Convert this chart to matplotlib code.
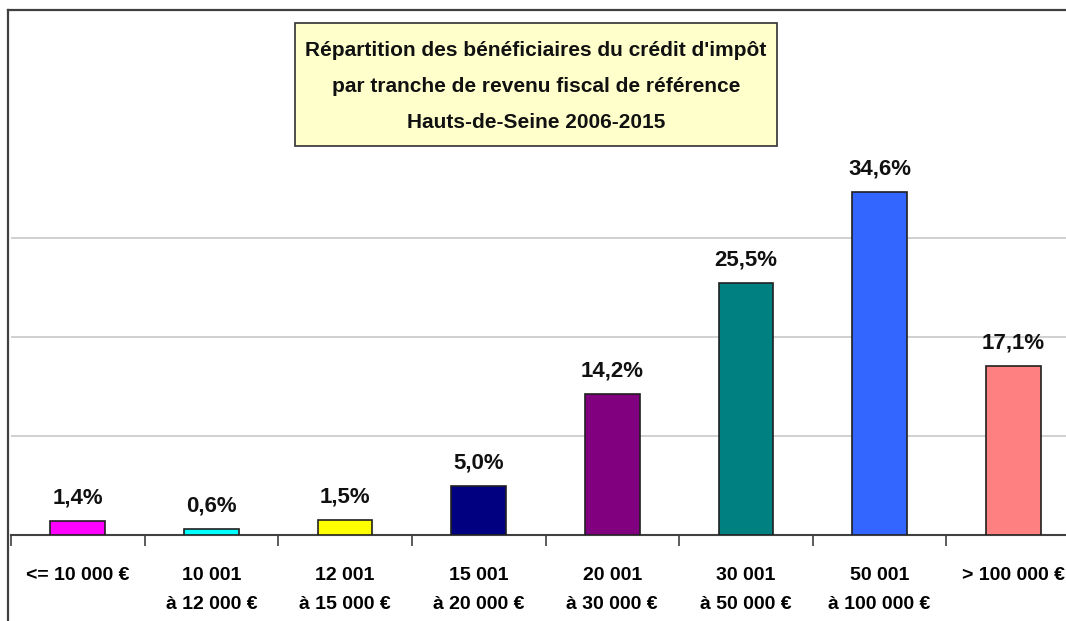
import numpy as np
import matplotlib
matplotlib.use('Agg')
from matplotlib import pyplot as plt
from matplotlib.patches import Rectangle
from matplotlib.lines import Line2D

# Données
tranches = ['<= 10 000 €', '10 001\nà 12 000 €', '12 001\nà 15 000 €', '15 001\nà 20 000 €',
            '20 001\nà 30 000 €', '30 001\nà 50 000 €', '50 001\nà 100 000 €', '> 100 000 €']
parts = [1.4, 0.6, 1.5, 5.0, 14.2, 25.5, 34.6, 17.1]
couleurs = ['#FF00FF', '#00FFFF', '#FFFF00', '#000080', '#800080', '#008080', '#3366FF', '#FF8080']
titre = ["Répartition des bénéficiaires du crédit d'impôt",
         "par tranche de revenu fiscal de référence",
         "Hauts-de-Seine 2006-2015"]

plt.rcParams['font.family'] = ['Liberation Sans', 'DejaVu Sans']
plt.rcParams['font.weight'] = 'bold'

W, H = 1066, 621
fig = plt.figure(figsize=(W / 100, H / 100), dpi=100)
fig.patch.set_facecolor('white')

# zone de tracé (en pixels : gauche 11, base 535, haut 40 = 50 %)
ax = fig.add_axes([11 / W, (H - 535) / H, 1069 / W, 495 / H])
x = np.arange(len(parts))
barres = ax.bar(x, parts, width=0.41, color=couleurs, edgecolor='#202020', linewidth=1.2, zorder=3)
ax.bar_label(barres, labels=[('%.1f%%' % v).replace('.', ',') for v in parts],
             padding=9, fontsize=16, fontweight='bold', color='#111111')

ax.set_xlim(-0.5, len(parts) - 0.5)
ax.set_ylim(0, 50)
ax.set_yticks([10, 20, 30])
ax.yaxis.grid(True, color='#C8C8C8', linewidth=1.2, zorder=0)
ax.tick_params(axis='y', left=False, labelleft=False)

ax.set_xticks(x)
ax.set_xticklabels(tranches, fontsize=14, fontweight='bold', linespacing=1.92)
ax.set_xticks(np.arange(-0.5, len(parts)), minor=True)
ax.tick_params(axis='x', which='major', length=0, pad=23)
ax.tick_params(axis='x', which='minor', length=8, width=1.2, color='#404040', direction='out')

for s in ['left', 'right', 'top']:
    ax.spines[s].set_visible(False)
ax.spines['bottom'].set_color('#404040')
ax.spines['bottom'].set_linewidth(1.5)

# cadre du graphique (coupé à droite et en bas)
fig.add_artist(Line2D([8 / W, 8 / W], [0, (H - 10) / H], color='#404040', linewidth=1.6))
fig.add_artist(Line2D([8 / W, 1], [(H - 10) / H, (H - 10) / H], color='#404040', linewidth=1.6))

# encadré du titre
fig.add_artist(Rectangle((295 / W, (H - 146) / H), 482 / W, 123 / H, facecolor='#FFFFCC',
                         edgecolor='#404040', linewidth=1.3, zorder=5))
for i, ligne in enumerate(titre):
    fig.text(536 / W, (H - 50 - 36.5 * i) / H, ligne, ha='center', va='center',
             fontsize=15, fontweight='bold', color='#111111', zorder=6)

plt.savefig('out.png', dpi=100)
